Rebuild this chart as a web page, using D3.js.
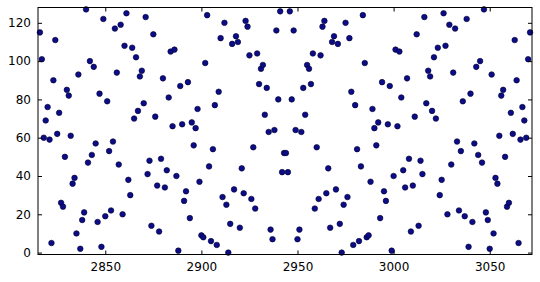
<!DOCTYPE html>
<html>
<head>
<meta charset="utf-8">
<script src="https://cdn.jsdelivr.net/npm/d3@7"></script>
<style>
  body { margin: 0; background: #fff; }
  svg { display: block; }
  .tick text { font-family: "DejaVu Sans", sans-serif; font-size: 12px; fill: #000; }
  .tick line { stroke: #000; }
</style>
</head>
<body>
<svg></svg>
<script>
var xValues = [
  2816, 2817, 2818, 2819, 2820, 2821, 2822, 2823, 2824, 2825, 2826, 2827, 2828, 2829, 2830, 2831,
  2832, 2833, 2834, 2835, 2836, 2837, 2838, 2839, 2840, 2841, 2842, 2843, 2844, 2845, 2846, 2847,
  2848, 2849, 2850, 2851, 2852, 2853, 2854, 2855, 2856, 2857, 2858, 2859, 2860, 2861, 2862, 2863,
  2864, 2865, 2866, 2867, 2868, 2869, 2870, 2871, 2872, 2873, 2874, 2875, 2876, 2877, 2878, 2879,
  2880, 2881, 2882, 2883, 2884, 2885, 2886, 2887, 2888, 2889, 2890, 2891, 2892, 2893, 2894, 2895,
  2896, 2897, 2898, 2899, 2900, 2901, 2902, 2903, 2904, 2905, 2906, 2907, 2908, 2909, 2910, 2911,
  2912, 2913, 2914, 2915, 2916, 2917, 2918, 2919, 2920, 2921, 2922, 2923, 2924, 2925, 2926, 2927,
  2928, 2929, 2930, 2931, 2932, 2933, 2934, 2935, 2936, 2937, 2938, 2939, 2940, 2941, 2942, 2943,
  2944, 2945, 2946, 2947, 2948, 2949, 2950, 2951, 2952, 2953, 2954, 2955, 2956, 2957, 2958, 2959,
  2960, 2961, 2962, 2963, 2964, 2965, 2966, 2967, 2968, 2969, 2970, 2971, 2972, 2973, 2974, 2975,
  2976, 2977, 2978, 2979, 2980, 2981, 2982, 2983, 2984, 2985, 2986, 2987, 2988, 2989, 2990, 2991,
  2992, 2993, 2994, 2995, 2996, 2997, 2998, 2999, 3000, 3001, 3002, 3003, 3004, 3005, 3006, 3007,
  3008, 3009, 3010, 3011, 3012, 3013, 3014, 3015, 3016, 3017, 3018, 3019, 3020, 3021, 3022, 3023,
  3024, 3025, 3026, 3027, 3028, 3029, 3030, 3031, 3032, 3033, 3034, 3035, 3036, 3037, 3038, 3039,
  3040, 3041, 3042, 3043, 3044, 3045, 3046, 3047, 3048, 3049, 3050, 3051, 3052, 3053, 3054, 3055,
  3056, 3057, 3058, 3059, 3060, 3061, 3062, 3063, 3064, 3065, 3066, 3067, 3068, 3069, 3070, 3071
];

var yValues = [
  115, 101, 60, 69, 76, 59, 5, 90, 111, 62,
  73, 26, 24, 50, 85, 82, 61, 36, 39, 10,
  93, 2, 17, 21, 127, 47, 100, 51, 97, 57,
  16, 83, 3, 122, 19, 79, 53, 22, 58, 117,
  94, 46, 119, 20, 108, 125, 38, 30, 107, 70,
  102, 74, 92, 95, 78, 123, 41, 48, 14, 114,
  71, 35, 11, 49, 91, 34, 43, 81, 105, 66,
  106, 40, 1, 87, 67, 27, 32, 89, 18, 68,
  56, 65, 75, 37, 9, 8, 99, 124, 45, 6,
  54, 77, 4, 84, 112, 29, 120, 25, 0, 15,
  109, 33, 113, 110, 13, 44, 31, 121, 118, 103,
  28, 55, 23, 104, 88, 96, 98, 72, 86, 63,
  12, 7, 64, 116, 80, 126, 42, 52,
  52, 42, 126, 80, 116, 64, 7, 12,
  63, 86, 72, 98, 96, 88, 104, 23, 55, 28,
  103, 118, 121, 31, 44, 13, 110, 113, 33, 109,
  15, 0, 25, 120, 29, 112, 84, 4, 77, 54,
  6, 45, 124, 99, 8, 9, 37, 75, 65, 56,
  68, 18, 89, 32, 27, 67, 87, 1, 40, 106,
  66, 105, 81, 43, 34, 91, 49, 11, 35, 71,
  114, 14, 48, 41, 123, 78, 95, 92, 74, 102,
  70, 107, 30, 38, 125, 108, 20, 119, 46, 94,
  117, 58, 22, 53, 79, 19, 122, 3, 83, 16,
  57, 97, 51, 100, 47, 127, 21, 17, 2, 93,
  10, 39, 36, 61, 82, 85, 50, 24, 26, 73,
  62, 111, 90, 5, 59, 76, 69, 60, 101, 115
];

var xTicks = [2850, 2900, 2950, 3000, 3050];
var yTicks = [0, 20, 40, 60, 80, 100, 120];

var width = 540, height = 282;
var plotLeft = 38, plotRight = 532, plotTop = 7.5, plotBottom = 254.5;

var svg = d3.select("svg")
    .attr("width", width)
    .attr("height", height);

var x = d3.scaleLinear()
    .domain([2815, 3072])
    .range([plotLeft, plotRight]);

var y = d3.scaleLinear()
    .domain([-1, 128])
    .range([plotBottom, plotTop]);

var data = xValues.map(function(d, i) { return {x: d, y: yValues[i]}; });

svg.append("g")
    .selectAll("circle")
    .data(data)
    .enter()
    .append("circle")
      .attr("cx", function(d) { return x(d.x); })
      .attr("cy", function(d) { return y(d.y); })
      .attr("r", 2.8)
      .attr("fill", "#0c0c86")
      .attr("stroke", "#000030")
      .attr("stroke-width", 0.6);

// ticks point inward on all four sides, labels only bottom and left
svg.append("g")
    .attr("transform", "translate(0," + plotBottom + ")")
    .call(d3.axisBottom(x).tickValues(xTicks).tickFormat(d3.format("d"))
        .tickSizeInner(-4).tickSizeOuter(0).tickPadding(8))
    .call(function(g) { g.select(".domain").remove(); });

svg.append("g")
    .attr("transform", "translate(0," + plotTop + ")")
    .call(d3.axisTop(x).tickValues(xTicks).tickSizeInner(-4).tickSizeOuter(0).tickFormat(""))
    .call(function(g) { g.select(".domain").remove(); });

svg.append("g")
    .attr("transform", "translate(" + plotLeft + ",0)")
    .call(d3.axisLeft(y).tickValues(yTicks).tickFormat(d3.format("d"))
        .tickSizeInner(-4).tickSizeOuter(0).tickPadding(7))
    .call(function(g) { g.select(".domain").remove(); });

svg.append("g")
    .attr("transform", "translate(" + plotRight + ",0)")
    .call(d3.axisRight(y).tickValues(yTicks).tickSizeInner(-4).tickSizeOuter(0).tickFormat(""))
    .call(function(g) { g.select(".domain").remove(); });

svg.append("rect")
    .attr("x", plotLeft)
    .attr("y", plotTop)
    .attr("width", plotRight - plotLeft)
    .attr("height", plotBottom - plotTop)
    .attr("fill", "none")
    .attr("stroke", "#000")
    .attr("stroke-width", 1);
</script>
</body>
</html>
